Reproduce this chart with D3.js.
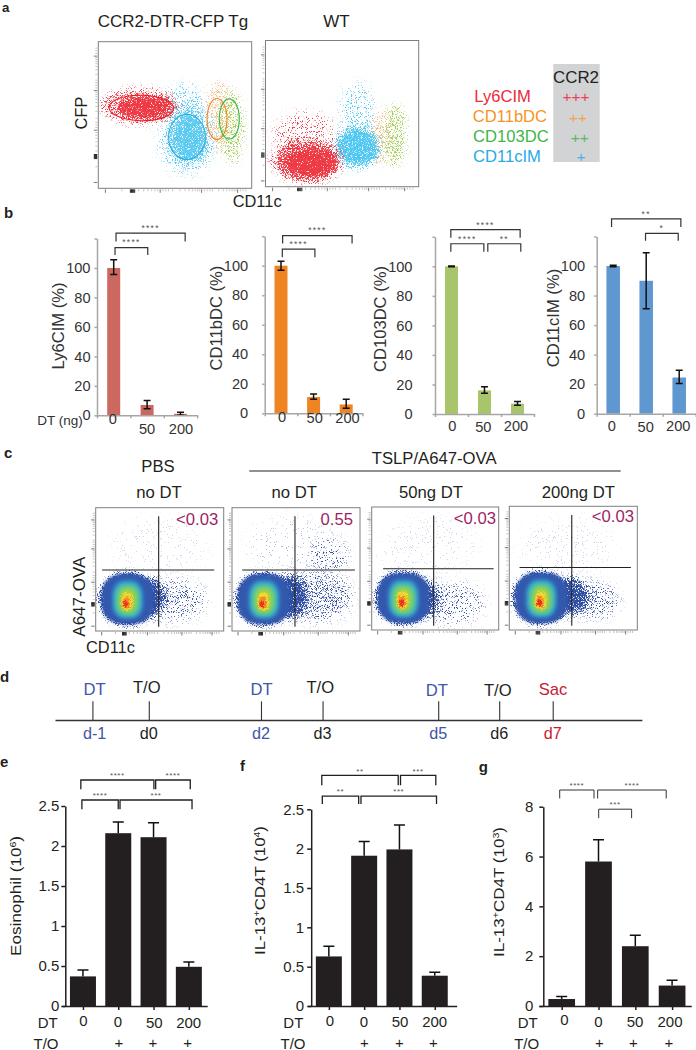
<!DOCTYPE html>
<html><head><meta charset="utf-8">
<script src="https://cdn.jsdelivr.net/npm/d3@7"></script>
<style>html,body{margin:0;padding:0;background:#fff}svg{display:block}text{font-family:"Liberation Sans",Arial,sans-serif}</style>
</head><body><svg id="fig" width="696" height="1050"></svg>
<script>
// ---------- DATA ----------
const doseLabels = ["0","50","200"];
const ly6Values = [100,7,1], ly6Low = [95.5,4.5,0], ly6High = [105.5,10,2];
const cd11bValues = [100,11,6], cd11bLow = [97,9.5,3.5], cd11bHigh = [103,13,9.5];
const cd103Values = [100,16,7], cd103Low = [99.7,14,6], cd103High = [100.3,18.5,8.5];
const cd11cValues = [100,90,24.5], cd11cLow = [99.5,71,20.5], cd11cHigh = [100.5,109,29.5];
const percentTicks = [0,20,40,60,80,100,120];

const ly6Brackets = [[.54,1.52,113.8,108.8,"****"],[.57,2.64,123.6,117.9,"****"]];
const cd11bBrackets = [[.54,1.54,111.2,105.8,"****"],[.55,2.68,120.4,115,"****"]];
const cd103Brackets = [[.48,2.58,124.8,119.3,"****"],[.48,1.48,115.3,109.9,"****"],[1.6,2.6,115.3,109.9,"**"]];
const cd11cBrackets = [[.45,2.55,132,126.4,"**"],[1.48,2.47,122.1,117.1,"*"]];

const dtRow = ["0","0","50","200"], toRow = ["","+","+","+"];
const eosValues = [.37,2.16,2.11,.49], eosHigh = [.45,2.30,2.29,.55], eosTicks=[0,.5,1,1.5,2,2.5];
const il13fValues = [.63,1.91,1.99,.385], il13fHigh = [.76,2.09,2.30,.43], il13fTicks=[0,.5,1,1.5,2,2.5];
const il13gValues = [.28,5.8,2.4,.82], il13gHigh = [.38,6.67,2.84,1.03], il13gTicks=[0,2,4,6,8];
const eosBrackets = [[.47,1.5,2.575,2.46,"****"],[1.55,3.59,2.575,2.46,"***"],[.44,2.51,2.825,2.71,"****"],[2.56,3.54,2.825,2.71,"****"]];
const il13fBrackets = [[.315,1.345,2.668,2.567,"**"],[1.41,3.55,2.668,2.567,"***"],[.3,2.465,2.93,2.807,"**"],[2.53,3.53,2.93,2.807,"***"]];
const il13gBrackets = [[.446,1.378,8.67,8.33,"****"],[1.477,3.34,8.67,8.33,"****"],[1.505,2.4,7.9,7.54,"***"]];

// flow cytometry: density regions, [cx, cy, rx, ry, density, blur]
const flowMajorTicks = [4.3,40,67,90.5];
const flowZeroTicks = [20.6,21.3,22,22.7,23.4];
const tgRed = [[27,56,26,12,.6,5],[30,55,19,8,1.05,3]];
const tgCyan = [[58,35,18,25,.58,7],[56,58,15,14,.32,6],[59,34,12,16,.95,4]];
const tgOrange = [[78,50,8,25,.45,5]];
const tgGreen = [[87,42,8,26,.55,5]];
const wtRed = [[27,18,23,15,.8,5],[26,34,21,17,.2,6],[30,16,18,10,1,3]];
const wtCyan = [[60,27,15,14,1,4],[60,50,12,22,.32,6]];
const wtOrange = [[75,34,7,20,.42,5]];
const wtGreen = [[84.5,35,8,22,.55,5]];
const tgGates = [[28,54.8,21,8.7,1,"red"],[57.8,35,12,15.4,0,"cyan"],[77.4,47.3,6.5,14,0,"orange"],[85.4,47.3,6.5,13.7,0,"green"]];
const gateColors = {red:"#ed1c24",cyan:"#29abe2",orange:"#f58220",green:"#39b54a"};

const pseudoLevels = [
  [25,26,20,20,"#3358ad",1.5,0],[25,25.5,11.5,15,"#35a7d6",2,0],[25,25,9.5,12.5,"#4fc69c",2,0],
  [25,25,7,10,"#9fd24a",2,0],[24.5,24,4.5,7.5,"#f0d832",1.5,1],[24,23,3,5,"#f58a24",1.5,1],[23.5,22,2,3,"#e8321f",1,1]];
const pbsTail = [[25,26,22.5,22,1.1,3],[42,27,14,17,.9,5],[60,25,26,17,.34,7],[50,68,38,24,.012,8]];
const tslpTail = [[25,26,22.5,22,1.1,3],[45,28,15,18,1,5],[64,28,30,20,.45,7],[75,61,15,14,.2,6],[50,68,40,24,.018,8]];
const dt50Tail = [[25,26,22.5,22,1.1,3],[42,25,13,15,.85,5],[62,22,26,17,.28,7],[45,68,38,24,.012,8]];
const dt200Tail = [[25,26,22.5,22,1.1,3],[46,27,17,15,1,5],[66,24,20,15,.36,6],[45,68,38,24,.012,8]];
const ovaPanels = [
 {head:"no DT",value:"<0.03",tail:pbsTail},{head:"no DT",value:"0.55",tail:tslpTail},
 {head:"50ng DT",value:"<0.03",tail:dt50Tail},{head:"200ng DT",value:"<0.03",tail:dt200Tail}];

const legendNames = ["Ly6CIM","CD11bDC","CD103DC","CD11cIM"];
const legendPlus = ["+++","++","++","+"];
const timelineDays = [-1,-.02,1.93,3,5.01,6.07,7];
const timelineTop = ["DT","T/O","DT","T/O","DT","T/O","Sac"];
const timelineBottom = ["d-1","d0","d2","d3","d5","d6","d7"];
const timelineKinds = ["dt","to","dt","to","dt","to","sac"];

// ---------- HELPERS ----------
const svg = d3.select("#fig"), defs = svg.append("defs");
const INK = "#231f20";
function txt(x,y,s,o={}){
  const t = svg.append("text").attr("x",x).attr("y",y).text(s)
    .attr("font-size",o.fs||16.7).attr("fill",o.fill||INK).attr("text-anchor",o.anchor||"start");
  if(o.weight) t.attr("font-weight",o.weight);
  if(o.len) t.attr("textLength",o.len).attr("lengthAdjust","spacingAndGlyphs");
  return t;
}
function vtxt(x,y,parts,o={}){
  const t = svg.append("text").attr("transform",`translate(${x},${y}) rotate(-90)`)
    .attr("text-anchor","middle").attr("font-size",o.fs||15.5).attr("fill",o.fill||INK);
  if(o.len) t.attr("textLength",o.len).attr("lengthAdjust","spacingAndGlyphs");
  let back=false;
  parts.forEach(p=>{
    if(typeof p==="string"){ const s=t.append("tspan").text(p); if(back){s.attr("dy",5);back=false;} }
    else { t.append("tspan").attr("dy",-5).attr("font-size",(o.fs||15.5)*.62).text(p.sup); back=true; }
  });
  return t;
}
let seed = 3;
const filterCache = {};
function speckle(color,density,blur){
  const id = "sp"+(seed++);
  const f = defs.append("filter").attr("id",id).attr("filterUnits","userSpaceOnUse")
    .attr("x",0).attr("y",0).attr("width",696).attr("height",1050)
    .attr("color-interpolation-filters","sRGB");
  f.append("feGaussianBlur").attr("in","SourceAlpha").attr("stdDeviation",blur).attr("result","b");
  f.append("feTurbulence").attr("type","fractalNoise").attr("baseFrequency",1.2).attr("numOctaves",2).attr("seed",seed).attr("result","n");
  f.append("feColorMatrix").attr("in","n").attr("type","matrix")
    .attr("values","0 0 0 0 0  0 0 0 0 0  0 0 0 0 0  2.5 0 0 0 -.75").attr("result","na");
  f.append("feComposite").attr("in","b").attr("in2","na").attr("operator","arithmetic")
    .attr("k1",0).attr("k2",density).attr("k3",1).attr("k4",-1).attr("result","s");
  f.append("feComponentTransfer").attr("in","s").attr("result","m")
    .append("feFuncA").attr("type","linear").attr("slope",Math.min(20,Math.max(3,1.2/density))).attr("intercept",0);
  f.append("feFlood").attr("flood-color",color).attr("result","c");
  f.append("feComposite").attr("in","c").attr("in2","m").attr("operator","in");
  return id;
}
function softBlur(b){
  if(filterCache[b]) return filterCache[b];
  const id="bl"+String(b).replace(".","_");
  defs.append("filter").attr("id",id).attr("x","-40%").attr("y","-40%").attr("width","180%").attr("height","180%")
    .append("feGaussianBlur").attr("stdDeviation",b);
  return filterCache[b]=id;
}
let clipN=0;
function flowPanel(box){
  const x=d3.scaleLinear([0,100],[box.x,box.x+box.w]), y=d3.scaleLinear([0,100],[box.y+box.h,box.y]);
  const id="clip"+(clipN++);
  defs.append("clipPath").attr("id",id).append("rect").attr("x",box.x).attr("y",box.y).attr("width",box.w).attr("height",box.h);
  const g=svg.append("g").attr("clip-path",`url(#${id})`);
  const minor=[];
  flowMajorTicks.slice(0,-1).forEach((a,i)=>{const b=flowMajorTicks[i+1];
    d3.range(2,10).forEach(k=>minor.push(a+(b-a)*Math.log10(k)));});
  flowMajorTicks.slice(1).forEach(a=>{[.03,.06,.09].forEach(f=>{if(a+f*60<100)minor.push(a+f*60);});});
  const draw=(axis,ty,vals,size,col,w)=>{
    const a=svg.append("g").attr("transform",ty).call(axis.tickValues(vals).tickSize(size).tickFormat(""));
    a.select(".domain").remove();
    a.selectAll("text").remove();
    a.selectAll("line").attr("stroke",col).attr("stroke-width",w);
  };
  const left=`translate(${box.x-1},0)`, bot=`translate(0,${box.y+box.h+1})`;
  draw(d3.axisLeft(y),left,minor,2,"#999",.6);
  draw(d3.axisLeft(y),left,flowMajorTicks,3.5,"#555",.8);
  draw(d3.axisLeft(y),left,flowZeroTicks,3.5,"#111",.9);
  draw(d3.axisBottom(x),bot,minor,2,"#999",.6);
  draw(d3.axisBottom(x),bot,flowMajorTicks,3.5,"#555",.8);
  draw(d3.axisBottom(x),bot,flowZeroTicks,3.5,"#111",.9);
  return {x,y,g,box};
}
function frame(p){
  svg.append("rect").attr("x",p.box.x).attr("y",p.box.y).attr("width",p.box.w).attr("height",p.box.h)
    .attr("fill","none").attr("stroke","#7f7f7f").attr("stroke-width",1);
}
function clouds(p,list,color){
  p.g.selectAll(null).data(list).join("ellipse")
    .attr("cx",d=>p.x(d[0])).attr("cy",d=>p.y(d[1]))
    .attr("rx",d=>p.x(d[2])-p.x(0)).attr("ry",d=>p.y(0)-p.y(d[3]))
    .attr("fill","#000")
    .attr("filter",d=>`url(#${speckle(color,d[4],d[5])})`);
}
function gates(p,list){
  svg.selectAll(null).data(list).join("ellipse")
    .attr("cx",d=>p.x(d[0])).attr("cy",d=>p.y(d[1]))
    .attr("rx",d=>p.x(d[2])-p.x(0)).attr("ry",d=>p.y(0)-p.y(d[3]))
    .attr("transform",d=>`rotate(${d[4]},${p.x(d[0])},${p.y(d[1])})`)
    .attr("fill","none").attr("stroke",d=>gateColors[d[5]]).attr("stroke-width",1.1);
}
function bracketMarks(xs,ys,list,o){
  const g=svg.append("g");
  list.forEach(b=>{
    g.append("path").attr("fill","none").attr("stroke",o.stroke).attr("stroke-width",o.sw)
     .attr("d",`M${xs(b[0])},${ys(b[3])}V${ys(b[2])}H${xs(b[1])}V${ys(b[3])}`);
    g.append("text").attr("x",(xs(b[0])+xs(b[1]))/2).attr("y",ys(b[2])-o.gap).attr("text-anchor","middle")
     .attr("font-size",o.fs).attr("letter-spacing",o.ls).attr("fill","#555").text(b[4]);
  });
}
function barPanel(c){
  const xs=d3.scaleLinear([0,c.n],[c.x0,c.x0+c.n*c.band]);
  const ys=d3.scaleLinear([0,c.top],[c.bottom,c.yTop]);
  const cx=(d,i)=>xs(i+.5)+(c.shift?c.shift[i]:0);
  const gb=svg.append("g");
  gb.selectAll("rect").data(c.values).join("rect")
    .attr("x",(d,i)=>cx(d,i)-c.barW/2).attr("width",c.barW)
    .attr("y",d=>ys(d)).attr("height",d=>ys(0)-ys(d)).attr("fill",c.color);
  const ge=svg.append("g").attr("stroke","#111").attr("stroke-width",1.5).attr("fill","none");
  c.high.forEach((h,i)=>{
    const lo=c.low?c.low[i]:c.values[i], X=cx(0,i);
    ge.append("path").attr("d",`M${X},${ys(lo)}V${ys(h)}M${X-c.cap},${ys(h)}H${X+c.cap}`+(c.low?`M${X-c.cap},${ys(lo)}H${X+c.cap}`:""));
  });
  const ya=svg.append("g").attr("transform",`translate(${c.x0},0)`)
    .call(d3.axisLeft(ys).tickValues(c.ticks).tickSize(c.tick).tickSizeOuter(0).tickPadding(c.pad)
      .tickFormat(d=>d===120?"":d));
  ya.attr("font-family",null).attr("font-size",c.tickFs);
  ya.selectAll("line,path").attr("stroke",c.axisColor).attr("stroke-width",c.axisW);
  ya.selectAll("text").attr("fill",c.textColor).filter(function(){return !this.textContent;}).remove();
  const ext=c.xExtent||[0,c.n];
  const xa=svg.append("g").attr("transform",`translate(0,${c.bottom})`)
    .call(d3.axisBottom(xs.copy().domain(ext).range(ext.map(xs))).tickValues(c.xTicks).tickSize(c.xTick).tickSizeOuter(0).tickFormat(""));
  xa.selectAll("text").remove();
  xa.selectAll("line,path").attr("stroke",c.axisColor).attr("stroke-width",c.axisW);
  bracketMarks(xs,ys,c.brackets,c.br);
  return {xs,ys};
}

// ---------- PANEL A ----------
txt(2,12,"a",{weight:"bold",fs:13.3});
txt(97.7,27.3,"CCR2-DTR-CFP Tg",{fs:17});
txt(323.3,27.3,"WT",{fs:17});
const a1=flowPanel({x:98.3,y:41.7,w:153.4,h:146.6});
const a2=flowPanel({x:265.5,y:40.5,w:153.2,h:146.2});
clouds(a1,tgCyan,"#5ccbf2");clouds(a1,tgOrange,"#f8b878");clouds(a1,tgGreen,"#a9d05f");clouds(a1,tgRed,"#ee3a45");
frame(a1);gates(a1,tgGates);
clouds(a2,wtOrange,"#f8b878");clouds(a2,wtGreen,"#a9d05f");clouds(a2,wtCyan,"#4fc8f3");clouds(a2,wtRed,"#ee3a45");
frame(a2);
vtxt(86.5,113,["CFP"],{fs:16.4});
txt(232.7,206.7,"CD11c",{fs:16.4});
// legend
const legendX=[474.3,472.7,473,473], legendY=[101.7,122.3,142,161.7];
const legendCol=["#ed2a3a","#f7941e","#3fb54a","#29abe2"];
const plusX=[576,578,579.7,581], plusY=[102.3,123,143,161.7];
const plusCol=["#ef4056","#f5a14a","#55b96a","#4fb0e3"];
svg.append("rect").attr("x",553.3).attr("y",64).attr("width",46.4).attr("height",98).attr("fill","#d1d3d4");
txt(553,82.7,"CCR2",{fs:16.9});
legendNames.forEach((n,i)=>{
  txt(legendX[i],legendY[i],n,{fs:16.6,fill:legendCol[i]});
  txt(plusX[i],plusY[i],legendPlus[i],{fs:15.5,fill:plusCol[i],anchor:"middle"});
});

// ---------- PANEL B ----------
txt(4,217.7,"b",{weight:"bold",fs:15});
const bStyle={n:3,top:120,ticks:percentTicks,xTicks:[0,1,2,3],tick:2.5,xTick:3,tickFs:14.6,axisColor:"#a6a6a6",axisW:1.5,textColor:"#333",cap:3.5,barW:13,
  br:{stroke:"#333",sw:1.2,gap:2.2,fs:8.5,ls:1.3}};
barPanel({...bStyle,x0:97,band:33.4,bottom:415.3,yTop:238.5,pad:4,color:"#cd6860",values:ly6Values,low:ly6Low,high:ly6High,brackets:ly6Brackets});
barPanel({...bStyle,x0:264.7,band:32.6,bottom:413.3,yTop:236.2,pad:14,color:"#ee8522",values:cd11bValues,low:cd11bLow,high:cd11bHigh,brackets:cd11bBrackets});
barPanel({...bStyle,x0:435,band:33,bottom:414,yTop:236.8,pad:20,color:"#a9c56b",values:cd103Values,low:cd103Low,high:cd103High,brackets:cd103Brackets});
barPanel({...bStyle,x0:596.7,band:33,bottom:413.7,yTop:236.5,pad:9,color:"#5f97d0",barW:13.5,values:cd11cValues,low:cd11cLow,high:cd11cHigh,brackets:cd11cBrackets});
vtxt(63.5,326,["Ly6CIM (%)"],{fs:16.6,fill:"#333"});
vtxt(221.5,318,["CD11bDC (%)"],{fs:16.6,fill:"#333"});
vtxt(386,319,["CD103DC (%)"],{fs:16.6,fill:"#333"});
vtxt(558.5,318,["CD11cIM (%)"],{fs:16.6,fill:"#333"});
txt(60,424.5,"DT (ng)",{fs:13.5,anchor:"middle",fill:"#333"});
const doseX=[[112.7,147,181],[282,314.7,347.5],[452.3,483.3,516],[611.7,645.7,678.3]];
const doseY=[[424,434,433.7],[421.7,422.7,422.7],[431,432,431],[431,432,431]];
doseX.forEach((row,r)=>row.forEach((X,i)=>txt(X,doseY[r][i],doseLabels[i],{fs:14.6,anchor:"middle",fill:"#333"})));

// ---------- PANEL C ----------
txt(4,458,"c",{weight:"bold",fs:15});
txt(158,472.3,"PBS",{anchor:"middle"});
txt(371.7,464,"TSLP/A647-OVA");
svg.append("line").attr("x1",249.3).attr("x2",620.7).attr("y1",471).attr("y2",471).attr("stroke","#222").attr("stroke-width",1.1);
const ovaBoxes=[{x:95.7,y:507.7,w:128,h:123.3},{x:232,y:507.7,w:128,h:123.3},{x:371.7,y:507,w:127,h:123},{x:509.3,y:506.3,w:128,h:123.7}];
const headX=[159,294.3,431,578.3], valX=[218.3,353,496,634], valY=[525,525,524,522.3];
const quadV=[[49.2,3.5,93],[49.2,3.5,93],[48.8,3.5,93],[48.8,3.5,93]];
const quadH=[[49.5,5,92.6],[49.5,8,96],[49.8,9,96],[50.5,8,95]];
ovaPanels.forEach((d,i)=>{
  const p=flowPanel(ovaBoxes[i]);
  clouds(p,d.tail,"#2e4da3");
  p.g.selectAll(null).data(pseudoLevels).join("rect")
    .attr("x",l=>p.x(l[0]-l[2])).attr("y",l=>p.y(l[1]+l[3]))
    .attr("width",l=>p.x(2*l[2])-p.x(0)).attr("height",l=>p.y(0)-p.y(2*l[3]))
    .attr("rx",l=>(p.x(l[2])-p.x(0))*.75).attr("ry",l=>(p.y(0)-p.y(l[3]))*.75)
    .attr("fill",l=>l[4]).attr("filter",l=>l[6]?`url(#${speckle(l[4],1.25,l[5])})`:`url(#${softBlur(l[5])})`);
  frame(p);
  const q=svg.append("g").attr("stroke","#222").attr("stroke-width",1.1);
  q.append("line").attr("x1",p.x(quadV[i][0])).attr("x2",p.x(quadV[i][0])).attr("y1",p.y(quadV[i][1])).attr("y2",p.y(quadV[i][2]));
  q.append("line").attr("y1",p.y(quadH[i][0])).attr("y2",p.y(quadH[i][0])).attr("x1",p.x(quadH[i][1])).attr("x2",p.x(quadH[i][2]));
  txt(headX[i],498,d.head,{anchor:"middle"});
  txt(valX[i],valY[i],d.value,{anchor:"end",fill:"#9e1f63"});
});
vtxt(85,596.7,["A647-OVA"],{fs:16,len:80});
txt(86,652.7,"CD11c",{fs:16.4});

// ---------- PANEL D ----------
txt(0,681.6,"d",{weight:"bold",fs:15});
const dayX=d3.scaleLinear([-1,7],[92.4,552.7]);
const dCol={dt:"#3f55a5",to:"#231f20",sac:"#c8202f"};
const dAxis=svg.append("g").attr("transform","translate(0,720)")
  .call(d3.axisTop(dayX.copy().domain([-1.65,8.55]).range([-1.65,8.55].map(dayX))).tickValues(timelineDays).tickSize(18.7).tickSizeOuter(0).tickFormat(""));
dAxis.selectAll("text").remove();
dAxis.selectAll("path").attr("stroke","#333").attr("stroke-width",1.4);
dAxis.selectAll("line").attr("stroke","#333").attr("stroke-width",1.1);
const topShift=[2.2,-2,.6,-2.3,-1.4,-1.4,.3], topY=[694.7,693.3,694.7,693.3,696,696,695];
timelineDays.forEach((d,i)=>{
  txt(dayX(d)+topShift[i],topY[i],timelineTop[i],{fs:16.6,fill:dCol[timelineKinds[i]],anchor:"middle",len:null});
  txt(dayX(d)+(i==0?2.2:0),739,timelineBottom[i],{fs:16.2,fill:dCol[timelineKinds[i]],anchor:"middle"});
});

// ---------- PANELS E F G ----------
const lowStyle={n:4,xTicks:[.5,1.5,2.5,3.5],tick:4,xTick:4,tickFs:15,axisColor:INK,axisW:1.5,textColor:INK,cap:5.5,barW:26,color:INK,
  br:{stroke:INK,sw:1.3,gap:1.8,fs:8,ls:.6}};
barPanel({...lowStyle,x0:65.3,band:35.3,bottom:1006,yTop:806,top:2.5,pad:2,xExtent:[-.09,4.02],ticks:eosTicks,values:eosValues,high:eosHigh,brackets:eosBrackets});
barPanel({...lowStyle,x0:311.2,band:35.3,bottom:1006,yTop:809.3,top:2.5,pad:3,xExtent:[-.1,4.12],ticks:il13fTicks,values:il13fValues,high:il13fHigh,brackets:il13fBrackets});
barPanel({...lowStyle,x0:543.3,band:36.8,bottom:1006,yTop:806.7,top:8,pad:6,barW:26.7,xExtent:[-.12,4.02],ticks:il13gTicks,values:il13gValues,high:il13gHigh,brackets:il13gBrackets,
  br:{stroke:"#333",sw:1,gap:1.8,fs:8,ls:.6}});
txt(0,767,"e",{weight:"bold",fs:15});
txt(240,770.7,"f",{weight:"bold",fs:15});
txt(478.7,771.7,"g",{weight:"bold",fs:15});
vtxt(21,896,["Eosinophil (10",{sup:"6"},")"],{fs:15.5,len:120});
vtxt(265,890.5,["IL-13",{sup:"+"},"CD4T (10",{sup:"4"},")"],{fs:15.5,len:129});
vtxt(503.5,892,["IL-13",{sup:"+"},"CD4T (10",{sup:"3"},")"],{fs:15.5,len:130});
const rowX=[[83.3,118,154.3,188.7],[330,364,400,434.7],[564.3,598.3,635,670]];
const rowY=[[1026,1027,1027.7,1027.7],[1025.7,1027.3,1027.3,1027.3],[1025,1027,1027,1027]];
const plusRowX=[[0,119,153,187.7],[0,364.3,399.3,433.3],[0,599.3,633.3,669]];
const dtX=[47.7,293.3,527.7], toX=[46,293,526.7];
rowX.forEach((r,k)=>{
  txt(dtX[k],1028,"DT",{fs:15,anchor:"middle"});
  txt(toX[k],1048.5,"T/O",{fs:15,anchor:"middle"});
  r.forEach((X,i)=>{
    txt(X,rowY[k][i],dtRow[i],{fs:15,anchor:"middle"});
    if(toRow[i]) txt(plusRowX[k][i],1047.5,toRow[i],{fs:15,anchor:"middle"});
  });
});
</script></body></html>
